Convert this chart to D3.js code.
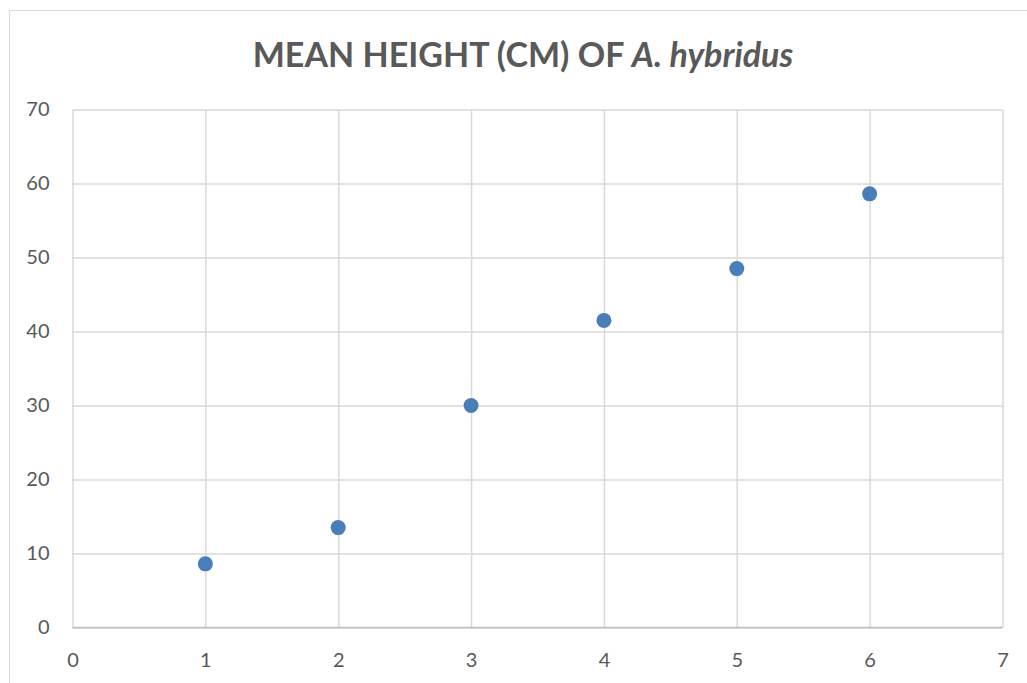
<!DOCTYPE html>
<html><head><meta charset="utf-8">
<script src="https://cdn.jsdelivr.net/npm/d3@7"></script>
<style>body{margin:0;background:#fff;}svg{display:block;}</style>
</head><body>
<script>
const xValues = [1, 2, 3, 4, 5, 6];
const yValues = [8.6, 13.5, 30.0, 41.5, 48.5, 58.6];
const xTicks = [0, 1, 2, 3, 4, 5, 6, 7];
const yTicks = [0, 10, 20, 30, 40, 50, 60, 70];

const W = 1027, H = 683;
const svg = d3.select("body").append("svg").attr("width", W).attr("height", H);
svg.append("rect").attr("width", W).attr("height", H).attr("fill", "#fff");
svg.append("rect").attr("x", 9.5).attr("y", 10.5).attr("width", W + 10).attr("height", H + 10)
  .attr("fill", "none").attr("stroke", "#d9d9d9").attr("stroke-width", 1);

const x = d3.scaleLinear().domain([0, 7]).range([72.5, 1002.5]);
const y = d3.scaleLinear().domain([0, 70]).range([627.5, 109.5]);
const font = "Lato, 'Open Sans', sans-serif";

// gridlines
const gx = svg.append("g").attr("transform", "translate(0,627.5)")
  .call(d3.axisBottom(x).tickValues(xTicks).tickSize(-(627.5 - 109.5)).tickFormat(""));
const gy = svg.append("g").attr("transform", "translate(72.5,0)")
  .call(d3.axisLeft(y).tickValues(yTicks).tickSize(-(1002.5 - 72.5)).tickFormat(""));
[gx, gy].forEach(g => {
  g.select(".domain").remove();
  g.selectAll(".tick line").attr("stroke", "#d9d9d9").attr("stroke-width", 1.5);
});
// axis line
svg.append("line").attr("x1", 72.5).attr("x2", 1002.5).attr("y1", 627.5).attr("y2", 627.5)
  .attr("stroke", "#bfbfbf").attr("stroke-width", 1.5);

// tick labels
const xl = svg.append("g").attr("transform", "translate(0,627.5)")
  .call(d3.axisBottom(x).tickValues(xTicks).tickSize(0).tickPadding(25).tickFormat(d3.format("d")));
const yl = svg.append("g").attr("transform", "translate(72.5,0)")
  .call(d3.axisLeft(y).tickValues(yTicks).tickSize(0).tickPadding(23).tickFormat(d3.format("d")));
[xl, yl].forEach(g => {
  g.select(".domain").remove();
  g.selectAll("text").attr("fill", "#595959").style("font-family", font).style("font-size", "20px");
});

// points
svg.append("g").selectAll("circle").data(xValues).join("circle")
  .attr("cx", (d) => x(d)).attr("cy", (d, i) => y(yValues[i])).attr("r", 7.5)
  .attr("fill", "#4a7ebb");

// title
const t = svg.append("text").attr("x", 523).attr("y", 67).attr("text-anchor", "middle")
  .attr("fill", "#595959").style("font-family", font).style("font-size", "34px").style("font-weight", "bold");
t.append("tspan").text("MEAN HEIGHT (CM) OF ");
t.append("tspan").style("font-style", "italic").text("A. hybridus");
</script>
</body></html>
